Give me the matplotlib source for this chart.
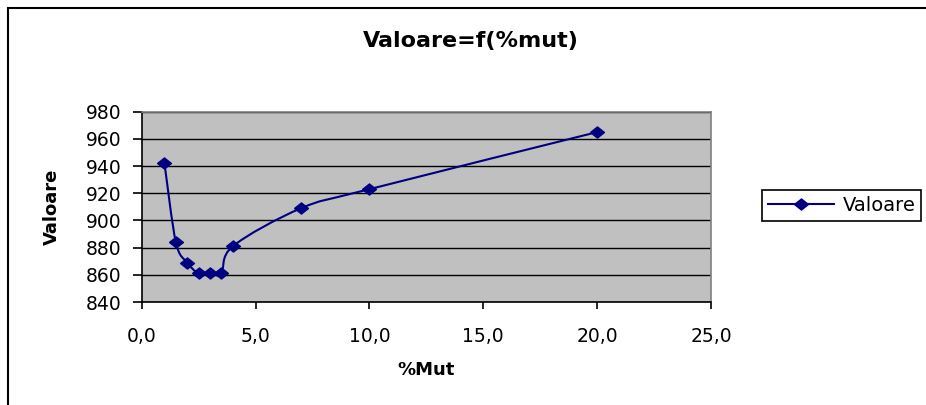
import matplotlib
matplotlib.use("Agg")
import matplotlib.pyplot as plt
from matplotlib.path import Path
from matplotlib.patches import PathPatch, Rectangle
from matplotlib.lines import Line2D
from matplotlib.ticker import FuncFormatter, MultipleLocator
import numpy as np

#------------------------------------------------------------------------------#
# Data                                                      #
#------------------------------------------------------------------------------#
mut = [1.0, 1.5, 2.0, 2.5, 3.0, 3.5, 4.0, 7.0, 10.0, 20.0]
valoare = [942, 884, 869, 861, 861, 861, 881, 909, 923, 965]
series_name = "Valoare"

title = "Valoare=f(%mut)"
x_title = "%Mut"
y_title = "Valoare"

navy = "#000080"
plot_bg = "#C0C0C0"

W, H = 926, 405

# diamond marker, a bit wider than tall like the Excel one
diamond = [(-1, 0), (0, 0.8), (1, 0), (0, -0.8), (-1, 0)]

#------------------------------------------------------------------------------#
# Excel-like smoothed line: bezier segments through the data points            #
#------------------------------------------------------------------------------#
def smooth_path(xs, ys):
    pts = np.column_stack([xs, ys]).astype(float)
    ext = np.vstack([pts[0], pts, pts[-1]])
    verts = [pts[0]]
    codes = [Path.MOVETO]
    for i in range(len(pts) - 1):
        p0, p1, p2, p3 = ext[i], ext[i + 1], ext[i + 2], ext[i + 3]
        verts += [p1 + (p2 - p0) / 6, p2 - (p3 - p1) / 6, p2]
        codes += [Path.CURVE4] * 3
    return Path(verts, codes)

#------------------------------------------------------------------------------#
# Figure                                                                       #
#------------------------------------------------------------------------------#
fig = plt.figure(figsize=(W / 100, H / 100), dpi=100)
fig.patch.set_facecolor("white")

left, right, top, bottom = 141.7, 711, 111.7, 302
ax = fig.add_axes([left / W, (H - bottom) / H, (right - left) / W, (bottom - top) / H])
ax.set_facecolor(plot_bg)

ax.add_patch(PathPatch(smooth_path(mut, valoare), facecolor="none",
                       edgecolor=navy, linewidth=1.5, zorder=3))
ax.plot(mut, valoare, linestyle="none", marker=diamond, markersize=10,
        color=navy, zorder=4)

ax.set_xlim(0, 25)
ax.set_ylim(840, 980)
ax.xaxis.set_major_locator(MultipleLocator(5))
ax.yaxis.set_major_locator(MultipleLocator(20))
ax.xaxis.set_major_formatter(FuncFormatter(lambda v, p: f"{v:.1f}".replace(".", ",")))
ax.yaxis.set_major_formatter(FuncFormatter(lambda v, p: f"{v:.0f}"))

ax.yaxis.grid(True, color="black", linewidth=1.0)
ax.set_axisbelow(True)

for s in ["left", "bottom"]:
    ax.spines[s].set_color("black")
    ax.spines[s].set_linewidth(1.2)
for s in ["top", "right"]:
    ax.spines[s].set_color("#808080")
    ax.spines[s].set_linewidth(1.2)

ax.tick_params(axis="x", direction="out", length=5, width=1.2, pad=13,
               labelsize=13.5, colors="black")
ax.tick_params(axis="y", direction="out", length=6.5, width=1.2, pad=8,
               labelsize=13.5, colors="black")

# titles
fig.text(471 / W, 1 - 41 / H, title, ha="center", va="center",
         fontsize=16, fontweight="bold")
fig.text(426 / W, 1 - 370 / H, x_title, ha="center", va="center",
         fontsize=13, fontweight="bold")
fig.text(52 / W, 1 - 207 / H, y_title, ha="center", va="center",
         fontsize=13, fontweight="bold", rotation=90)

# legend
handle = Line2D([], [], color=navy, linewidth=1.5, marker=diamond,
                markersize=10)
leg = fig.legend(handles=[handle], labels=[series_name], loc="center left",
                 bbox_to_anchor=(761.7 / W, 1 - 205.5 / H), fontsize=14,
                 frameon=True, fancybox=False, edgecolor="black",
                 framealpha=1.0, handlelength=3.4, handletextpad=0.45,
                 borderpad=0.3, borderaxespad=0, numpoints=1)
leg.get_frame().set_linewidth(1.2)

# outer chart border (right and bottom sides fall outside the picture)
fig.add_artist(Rectangle((8 / W, -0.1), 1.2, 1 - 8 / H + 0.1,
                         transform=fig.transFigure, fill=False,
                         edgecolor="black", linewidth=1.5))

fig.savefig("out.png", dpi=100)
